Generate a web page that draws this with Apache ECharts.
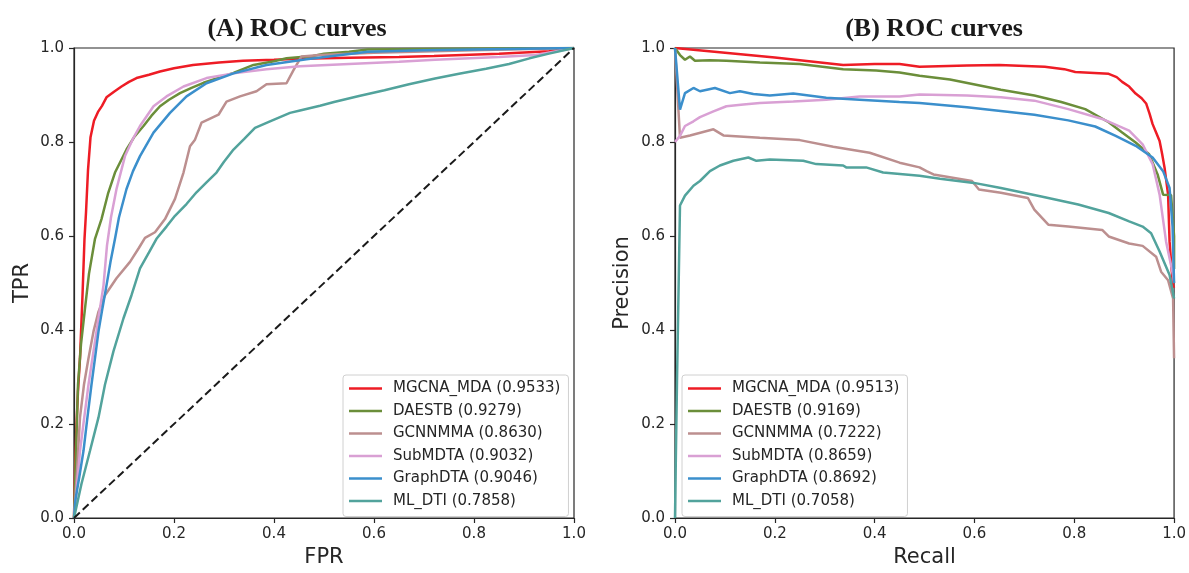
<!DOCTYPE html>
<html>
<head>
<meta charset="utf-8">
<script src="https://cdn.jsdelivr.net/npm/echarts@6/dist/echarts.min.js"></script>
<style>html,body{margin:0;padding:0;background:#fff}#c{width:1189px;height:573px}</style>
</head>
<body>
<div id="c"></div>
<script>
// ---------- data ----------
const tickValues = [0, 0.2, 0.4, 0.6, 0.8, 1.0];
const seriesNames = ['MGCNA_MDA', 'DAESTB', 'GCNNMMA', 'SubMDTA', 'GraphDTA', 'ML_DTI'];
const rocAUC = ['0.9533', '0.9279', '0.8630', '0.9032', '0.9046', '0.7858'];
const prAUC  = ['0.9513', '0.9169', '0.7222', '0.8659', '0.8692', '0.7058'];
const colors = ['#ee1c25', '#6b8e3a', '#bc8f8f', '#d9a0d4', '#3b8fcc', '#52a39c'];

// ROC curves (FPR, TPR)
const rocFPR_MGCNA = [0,0.002,0.005,0.008,0.012,0.017,0.021,0.024,0.028,0.033,0.04,0.048,0.056,0.065,0.08,0.095,0.11,0.125,0.15,0.172,0.2,0.238,0.29,0.338,0.4,0.452,0.55,0.65,0.72,0.85,0.95,1];
const rocTPR_MGCNA = [0,0.1,0.2,0.27,0.34,0.474,0.594,0.65,0.74,0.81,0.845,0.864,0.877,0.895,0.907,0.918,0.928,0.936,0.943,0.950,0.957,0.964,0.969,0.973,0.975,0.977,0.979,0.981,0.983,0.988,0.993,1];
const rocFPR_DAESTB = [0,0.002,0.004,0.008,0.014,0.022,0.03,0.042,0.055,0.068,0.082,0.105,0.12,0.139,0.155,0.172,0.19,0.212,0.235,0.259,0.29,0.319,0.359,0.4,0.425,0.478,0.5,0.55,0.587,0.7,0.85,1];
const rocTPR_DAESTB = [0,0.07,0.143,0.284,0.37,0.446,0.52,0.594,0.636,0.69,0.735,0.784,0.81,0.834,0.856,0.876,0.89,0.904,0.915,0.926,0.937,0.947,0.964,0.972,0.978,0.983,0.988,0.992,0.997,0.998,0.999,1];
const rocFPR_GCNNMMA = [0,0.006,0.012,0.02,0.029,0.039,0.049,0.062,0.085,0.112,0.13,0.142,0.162,0.182,0.202,0.219,0.232,0.242,0.255,0.269,0.289,0.305,0.332,0.365,0.385,0.425,0.439,0.455,0.492,0.6,0.8,1];
const rocTPR_GCNNMMA = [0,0.1,0.214,0.284,0.34,0.397,0.439,0.474,0.51,0.545,0.575,0.596,0.608,0.636,0.679,0.735,0.791,0.805,0.841,0.848,0.858,0.886,0.897,0.908,0.923,0.925,0.953,0.982,0.985,0.99,0.995,1];
const rocFPR_SubMDTA = [0,0.003,0.012,0.02,0.029,0.039,0.049,0.059,0.066,0.074,0.085,0.102,0.117,0.132,0.159,0.185,0.219,0.265,0.319,0.385,0.452,0.55,0.65,0.722,0.85,0.924,1];
const rocTPR_SubMDTA = [0,0.03,0.143,0.21,0.284,0.355,0.425,0.495,0.58,0.64,0.70,0.77,0.805,0.834,0.876,0.897,0.918,0.936,0.946,0.955,0.961,0.966,0.971,0.975,0.981,0.985,1];
const rocFPR_GraphDTA = [0,0.003,0.011,0.019,0.027,0.035,0.042,0.049,0.057,0.065,0.073,0.082,0.09,0.105,0.118,0.132,0.159,0.192,0.225,0.265,0.319,0.385,0.465,0.587,0.7,0.8,1];
const rocTPR_GraphDTA = [0,0.04,0.09,0.143,0.215,0.284,0.34,0.397,0.447,0.495,0.545,0.594,0.64,0.70,0.738,0.77,0.82,0.862,0.897,0.925,0.946,0.964,0.976,0.992,0.995,0.997,1];
const rocFPR_MLDTI = [0,0.015,0.032,0.049,0.062,0.079,0.099,0.115,0.132,0.15,0.165,0.185,0.202,0.225,0.245,0.265,0.285,0.3,0.319,0.34,0.362,0.392,0.432,0.452,0.492,0.52,0.57,0.621,0.67,0.722,0.77,0.824,0.87,0.911,0.95,1];
const rocTPR_MLDTI = [0,0.073,0.143,0.214,0.284,0.355,0.425,0.474,0.531,0.565,0.594,0.62,0.643,0.668,0.693,0.714,0.735,0.758,0.784,0.806,0.83,0.844,0.862,0.867,0.877,0.885,0.898,0.91,0.923,0.935,0.945,0.956,0.966,0.978,0.988,1];
const diagonalX = [0, 1];
const diagonalY = [0, 1];

// PR curves (Recall, Precision)
const prRec_MGCNA = [0,0.1,0.2,0.337,0.4,0.45,0.49,0.585,0.65,0.741,0.78,0.802,0.869,0.885,0.896,0.91,0.923,0.935,0.944,0.951,0.957,0.964,0.971,0.976,0.981,0.988,0.991,0.995,0.998,1];
const prPre_MGCNA = [1,0.99,0.98,0.964,0.966,0.966,0.96,0.963,0.964,0.96,0.955,0.949,0.945,0.938,0.928,0.918,0.903,0.893,0.882,0.86,0.838,0.82,0.802,0.775,0.745,0.688,0.588,0.53,0.495,0.49];
const prRec_DAESTB = [0,0.01,0.02,0.03,0.04,0.07,0.103,0.17,0.25,0.337,0.403,0.45,0.49,0.551,0.653,0.72,0.774,0.822,0.869,0.896,0.923,0.95,0.967,0.978,0.994,1,1];
const prPre_DAESTB = [1,0.985,0.975,0.982,0.973,0.974,0.973,0.969,0.966,0.955,0.952,0.948,0.941,0.933,0.911,0.899,0.885,0.87,0.842,0.82,0.799,0.774,0.731,0.688,0.687,0.6,0.53];
const prRec_GCNNMMA = [0,0.01,0.03,0.077,0.097,0.17,0.25,0.317,0.39,0.45,0.49,0.504,0.518,0.595,0.609,0.653,0.707,0.72,0.748,0.788,0.856,0.869,0.91,0.937,0.964,0.974,0.988,0.998,1];
const prPre_GCNNMMA = [1,0.809,0.814,0.827,0.814,0.809,0.804,0.79,0.777,0.756,0.746,0.738,0.731,0.717,0.699,0.692,0.681,0.656,0.624,0.62,0.613,0.599,0.584,0.579,0.556,0.524,0.506,0.467,0.34];
const prRec_SubMDTA = [0,0.01,0.02,0.037,0.05,0.077,0.103,0.137,0.17,0.237,0.303,0.37,0.45,0.49,0.585,0.653,0.72,0.788,0.856,0.91,0.937,0.957,0.971,0.984,0.998,1];
const prPre_SubMDTA = [0.8,0.813,0.834,0.844,0.853,0.865,0.876,0.88,0.883,0.886,0.89,0.897,0.897,0.901,0.899,0.895,0.888,0.87,0.849,0.824,0.795,0.753,0.688,0.588,0.517,0.5];
const prRec_GraphDTA = [0,0.01,0.02,0.037,0.05,0.08,0.11,0.13,0.157,0.19,0.237,0.303,0.37,0.45,0.49,0.585,0.72,0.788,0.842,0.883,0.923,0.957,0.978,0.991,0.997,1];
const prPre_GraphDTA = [1,0.869,0.904,0.915,0.908,0.915,0.904,0.908,0.902,0.899,0.903,0.894,0.89,0.885,0.883,0.874,0.858,0.846,0.833,0.813,0.792,0.767,0.738,0.702,0.62,0.5];
const prRec_MLDTI = [0,0.002,0.004,0.01,0.02,0.037,0.05,0.07,0.09,0.117,0.147,0.163,0.19,0.257,0.283,0.337,0.343,0.383,0.417,0.49,0.531,0.599,0.653,0.734,0.808,0.869,0.91,0.937,0.954,0.971,0.991,1];
const prPre_MLDTI = [0,0.15,0.29,0.665,0.686,0.707,0.717,0.738,0.75,0.76,0.767,0.76,0.763,0.76,0.753,0.75,0.746,0.746,0.735,0.728,0.722,0.713,0.702,0.684,0.667,0.649,0.631,0.62,0.606,0.567,0.517,0.467];

// ---------- build ----------
const zip = (xs, ys) => xs.map((x, i) => [x, ys[i]]);
const rocData = [
  zip(rocFPR_MGCNA, rocTPR_MGCNA), zip(rocFPR_DAESTB, rocTPR_DAESTB), zip(rocFPR_GCNNMMA, rocTPR_GCNNMMA),
  zip(rocFPR_SubMDTA, rocTPR_SubMDTA), zip(rocFPR_GraphDTA, rocTPR_GraphDTA), zip(rocFPR_MLDTI, rocTPR_MLDTI)
];
const prData = [
  zip(prRec_MGCNA, prPre_MGCNA), zip(prRec_DAESTB, prPre_DAESTB), zip(prRec_GCNNMMA, prPre_GCNNMMA),
  zip(prRec_SubMDTA, prPre_SubMDTA), zip(prRec_GraphDTA, prPre_GraphDTA), zip(prRec_MLDTI, prPre_MLDTI)
];
const rocNames = seriesNames.map((n, i) => n + ' (' + rocAUC[i] + ')');
const prNames = seriesNames.map((n, i) => n + ' (' + prAUC[i] + ')');

const AX = '#262626';
const FONT = 'DejaVu Sans';
function xAxis(idx, name) {
  return {
    type: 'value', gridIndex: idx, min: 0, max: 1, interval: 0.2,
    name: name, nameLocation: 'middle', nameGap: 29,
    nameTextStyle: { fontFamily: FONT, fontSize: 21, color: AX },
    axisLine: { show: true, lineStyle: { color: AX, width: 1.2 } },
    axisTick: { show: true, inside: false, length: 5, lineStyle: { color: AX, width: 1.2 } },
    axisLabel: { fontFamily: FONT, fontSize: 15, color: AX, margin: 9, formatter: v => v.toFixed(1) },
    splitLine: { show: false }
  };
}
function yAxis(idx, name, gap) {
  return {
    type: 'value', gridIndex: idx, min: 0, max: 1, interval: 0.2,
    name: name, nameLocation: 'middle', nameGap: gap, nameRotate: 90,
    nameTextStyle: { fontFamily: FONT, fontSize: 21, color: AX },
    axisLine: { show: true, lineStyle: { color: AX, width: 1.2 } },
    axisTick: { show: true, inside: false, length: 5, lineStyle: { color: AX, width: 1.2 } },
    axisLabel: { fontFamily: FONT, fontSize: 15, color: AX, margin: 10, formatter: v => v.toFixed(1) },
    splitLine: { show: false }
  };
}
function legend(left, names) {
  return {
    data: names, orient: 'vertical', left: left, top: 375,
    icon: 'rect', itemWidth: 33, itemHeight: 2.5, itemGap: 7.5,
    padding: [6, 8, 8, 6],
    backgroundColor: '#fff', borderColor: '#d0d0d0', borderWidth: 1, borderRadius: 3,
    textStyle: { fontFamily: FONT, fontSize: 15, color: AX, lineHeight: 15, padding: [0, 0, 0, 6] },
    selectedMode: false
  };
}
const series = [];
rocData.forEach((d, i) => series.push({
  name: rocNames[i], type: 'line', xAxisIndex: 0, yAxisIndex: 0, data: d,
  showSymbol: false, symbol: 'none', color: colors[i],
  lineStyle: { width: 2.5, color: colors[i] }, animation: false, z: 2 + i
}));
series.push({
  name: 'diag', type: 'line', xAxisIndex: 0, yAxisIndex: 0, data: zip(diagonalX, diagonalY),
  showSymbol: false, symbol: 'none', lineStyle: { width: 2, color: '#1a1a1a', type: [8, 4] }, animation: false, z: 10
});
prData.forEach((d, i) => series.push({
  name: prNames[i], type: 'line', xAxisIndex: 1, yAxisIndex: 1, data: d,
  showSymbol: false, symbol: 'none', color: colors[i],
  lineStyle: { width: 2.5, color: colors[i] }, animation: false, z: 2 + i
}));

const option = {
  backgroundColor: '#fff',
  animation: false,
  title: [
    { text: '(A) ROC curves', left: 292, top: 11, textAlign: 'center',
      textStyle: { fontFamily: 'Liberation Serif', fontWeight: 'bold', fontSize: 26, color: '#1a1a1a' } },
    { text: '(B) ROC curves', left: 929, top: 11, textAlign: 'center',
      textStyle: { fontFamily: 'Liberation Serif', fontWeight: 'bold', fontSize: 26, color: '#1a1a1a' } }
  ],
  grid: [
    { left: 74, top: 48, width: 500, height: 473, show: true, borderColor: AX, borderWidth: 1.2, backgroundColor: 'transparent' },
    { left: 675, top: 48, width: 501, height: 473, show: true, borderColor: AX, borderWidth: 1.2, backgroundColor: 'transparent' }
  ],
  xAxis: [xAxis(0, 'FPR'), xAxis(1, 'Recall')],
  yAxis: [yAxis(0, 'TPR', 41), yAxis(1, 'Precision', 42)],
  legend: [legend(343, rocNames), legend(682, prNames)],
  series: series
};
const chart = echarts.init(document.getElementById('c'), null, { renderer: 'canvas' });
chart.setOption(option);
</script>
</body>
</html>
